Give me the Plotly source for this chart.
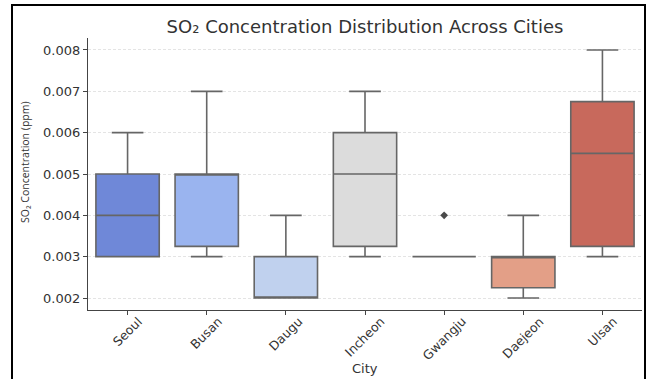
import plotly.graph_objects as go

# Monthly SO2 summary statistics (ppm) per city
cities = ["Seoul", "Busan", "Daugu", "Incheon", "Gwangju", "Daejeon", "Ulsan"]
q1 = [0.003, 0.00325, 0.002, 0.00325, 0.003, 0.00225, 0.00325]
median = [0.004, 0.005, 0.002, 0.005, 0.003, 0.003, 0.0055]
q3 = [0.005, 0.005, 0.003, 0.006, 0.003, 0.003, 0.00675]
lower_whisker = [0.003, 0.003, 0.002, 0.003, 0.003, 0.002, 0.003]
upper_whisker = [0.006, 0.007, 0.004, 0.007, 0.003, 0.004, 0.008]
outlier_city = ["Gwangju"]
outlier_value = [0.004]

fills = ["#6f88d8", "#9ab4ef", "#c0d1ee", "#dcdcdc", "#f0c4ae", "#e39f87", "#c8695c"]
line_gray = "#666666"
text_gray = "#333333"

fig = go.Figure()
for i, city in enumerate(cities):
    fig.add_trace(go.Box(
        x=[city], q1=[q1[i]], median=[median[i]], q3=[q3[i]],
        lowerfence=[lower_whisker[i]], upperfence=[upper_whisker[i]],
        fillcolor=fills[i], line=dict(color=line_gray, width=1.6),
        width=0.8, whiskerwidth=0.5, boxpoints=False,
        showlegend=False, hoverinfo="skip",
    ))

fig.add_trace(go.Scatter(
    x=outlier_city, y=outlier_value, mode="markers",
    marker=dict(symbol="diamond", size=6, color="#4a4a4a"),
    showlegend=False, hoverinfo="skip",
))

# Plot-area geometry in pixels
L, R, T, B = 88, 642, 38, 310
W, H = R - L, B - T

# Rotated category labels, centred under each tick
city_labels = [
    dict(text=c, x=c, xref="x", yref="paper", y=(B - 311) / H,
         xanchor="center", yanchor="top", textangle=-45, showarrow=False,
         font=dict(size=12.5, color=text_gray))
    for c in cities
]

font_main = "DejaVu Sans"
fig.update_layout(
    width=652, height=379,
    margin=dict(l=L, r=652 - R, t=T, b=379 - B),
    paper_bgcolor="white", plot_bgcolor="white",
    boxmode="overlay",
    font=dict(family=font_main, color=text_gray),
    title=dict(text="SO₂ Concentration Distribution Across Cities",
               x=(L + R) / 2 / 652, xanchor="center", y=1 - 27 / 379, yanchor="middle",
               font=dict(size=18, color=text_gray)),
    xaxis=dict(
        categoryorder="array", categoryarray=cities,
        range=[-0.5, 6.5], showline=True, linecolor="#444444", linewidth=1.3,
        ticks="outside", ticklen=4, tickcolor="#444444", tickwidth=1,
        showticklabels=False, showgrid=False, zeroline=False,
    ),
    yaxis=dict(
        range=[0.00171, 0.00829], dtick=0.001, tick0=0.002, tickformat=".3f",
        showline=True, linecolor="#444444", linewidth=1.3,
        ticks="outside", ticklen=4, tickcolor="#444444", tickwidth=1,
        tickfont=dict(size=13, color=text_gray),
        showgrid=True, gridcolor="#e4e4e4", gridwidth=0.8, griddash="3px,2px",
        zeroline=False,
    ),
    annotations=city_labels + [
        dict(text="City", xref="paper", yref="paper",
             x=0.5, y=(B - 368) / H, xanchor="center", yanchor="middle",
             showarrow=False, font=dict(size=13, color=text_gray)),
        dict(text="SO₂ Concentration (ppm)", xref="paper", yref="paper",
             x=(25 - L) / W, y=(B - 162) / H, xanchor="center", yanchor="middle",
             textangle=-90, showarrow=False,
             font=dict(family="Open Sans", size=10.5, color=text_gray)),
    ],
    shapes=[
        dict(type="rect", xref="paper", yref="paper",
             x0=(12 - L) / W, x1=(645 - L) / W,
             y0=(B - 390) / H, y1=(B - 5) / H,
             line=dict(color="black", width=2), fillcolor="rgba(0,0,0,0)"),
    ],
)

fig.write_html("out.html")
